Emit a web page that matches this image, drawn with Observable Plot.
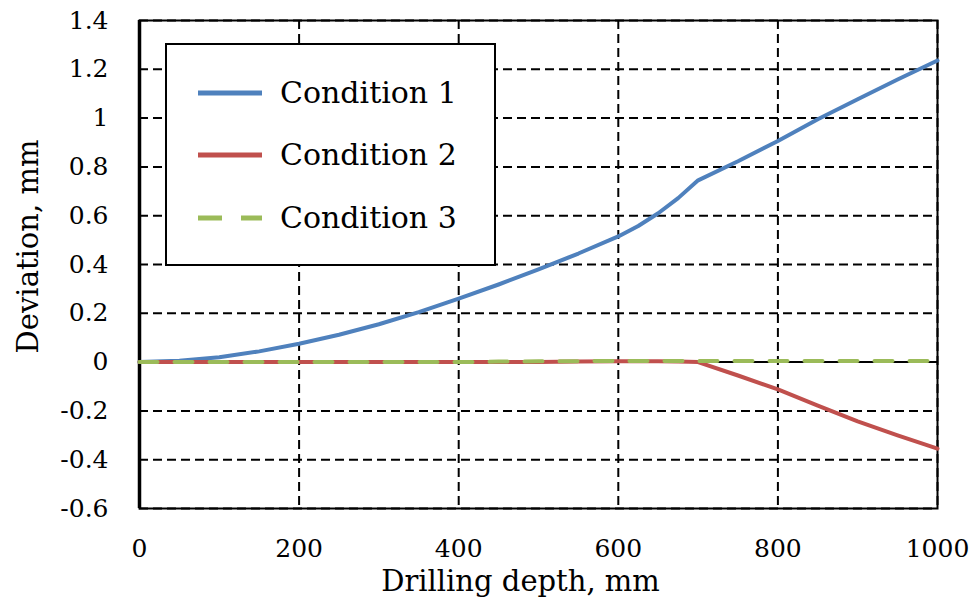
<!DOCTYPE html>
<html>
<head>
<meta charset="utf-8">
<script src="https://cdn.jsdelivr.net/npm/d3@7"></script>
<script src="https://cdn.jsdelivr.net/npm/@observablehq/plot@0.6"></script>
<style>
  html, body { margin: 0; padding: 0; background: #fff; }
  #chart { position: relative; width: 978px; height: 600px; font-family: "DejaVu Serif", serif; }
  #chart svg { display: block; }
  #legend {
    position: absolute; left: 165px; top: 43px; width: 331px; height: 223px;
    box-sizing: border-box; border: 2px solid #000; background: #fff;
  }
  .entry { position: absolute; left: 31px; height: 40px; display: flex; align-items: center; }
  .entry svg { width: 64px; height: 8px; margin-right: 18px; }
  .entry span { font-size: 30px; color: #000; line-height: 40px; }
</style>
</head>
<body>
<div id="chart"></div>
<script>
// Drilling depth (mm) at which deviation was sampled
const depth = [0, 50, 100, 150, 200, 250, 300, 350, 400, 450, 500, 550, 600, 625, 650, 675, 700, 750, 800, 850, 900, 950, 1000];

// Deviation (mm) for each drilling condition
const condition1 = [0, 0.006, 0.02, 0.044, 0.075, 0.112, 0.155, 0.205, 0.26, 0.318, 0.38, 0.445, 0.515, 0.558, 0.61, 0.672, 0.745, 0.823, 0.906, 0.995, 1.077, 1.158, 1.236];
const condition2 = [0, 0, 0, 0, 0, 0, 0, 0, 0, 0, 0, 0.002, 0.003, 0.003, 0.003, 0.002, 0, -0.055, -0.112, -0.178, -0.243, -0.3, -0.355];
const condition3 = [0, 0, 0, 0, 0, 0, 0, 0, 0, 0.002, 0.003, 0.004, 0.005, 0.005, 0.005, 0.005, 0.005, 0.004, 0.004, 0.004, 0.004, 0.004, 0.004];

const seriesNames = ["Condition 1", "Condition 2", "Condition 3"];
const seriesColors = ["#4F81BD", "#C0504D", "#9BBB59"];
const seriesDash = [null, null, "18,17"];

// Axis ticks
const xTicks = [0, 200, 400, 600, 800, 1000];
const yTicks = [-0.6, -0.4, -0.2, 0, 0.2, 0.4, 0.6, 0.8, 1, 1.2, 1.4];
const xTitle = "Drilling depth, mm";
const yTitle = "Deviation, mm";

const seriesValues = [condition1, condition2, condition3];
const rows = seriesValues.flatMap((vals, s) =>
  vals.map((v, i) => ({series: seriesNames[s], depth: depth[i], deviation: v}))
);

const gridStyle = {stroke: "#000", strokeWidth: 2, strokeDasharray: "9,5"};

const plot = Plot.plot({
  width: 978,
  height: 600,
  marginLeft: 139,
  marginRight: 41,
  marginTop: 20,
  marginBottom: 92,
  style: {fontFamily: "\"DejaVu Serif\", serif", fontSize: "25px", color: "#000", background: "#fff"},
  x: {domain: [0, 1000]},
  y: {domain: [-0.6, 1.4]},
  marks: [
    Plot.ruleY(yTicks.filter(d => d !== 0), gridStyle),
    Plot.ruleX(xTicks, gridStyle),
    Plot.ruleY([0], {stroke: "#000", strokeWidth: 2}),
    Plot.frame({stroke: "#000", strokeWidth: 2}),
    Plot.ruleX([0], {stroke: "#000", strokeWidth: 3.5}),
    Plot.axisY({ticks: yTicks, tickSize: 0, tickPadding: 31, tickFormat: d => String(+d.toFixed(1)), label: null, fontSize: 25}),
    Plot.axisX({ticks: xTicks, tickSize: 0, tickPadding: 31, tickFormat: d => String(d), label: null, fontSize: 25}),
    Plot.text([xTitle], {frameAnchor: "bottom", lineAnchor: "middle", textAnchor: "middle", dx: -18, dy: 73, fontSize: 29, fill: "#000"}),
    Plot.text([yTitle], {frameAnchor: "left", lineAnchor: "middle", textAnchor: "middle", rotate: -90, dx: -111, dy: -18, fontSize: 29, fill: "#000"}),
    ...seriesNames.map((name, s) =>
      Plot.line(rows.filter(r => r.series === name), {
        x: "depth", y: "deviation",
        stroke: seriesColors[s], strokeWidth: 4,
        strokeDasharray: seriesDash[s] ?? undefined,
        curve: "linear"
      })
    )
  ]
});

const chart = document.getElementById("chart");
chart.appendChild(plot);

// Legend box over the upper-left of the plot area
const legend = document.createElement("div");
legend.id = "legend";
const rowTops = [28, 90, 153];
seriesNames.forEach((name, s) => {
  const entry = document.createElement("div");
  entry.className = "entry";
  entry.style.top = rowTops[s] + "px";
  const dash = s === 2 ? ' stroke-dasharray="24,19"' : "";
  entry.innerHTML = `<svg viewBox="0 0 64 8"><line x1="0" y1="4" x2="64" y2="4" stroke="${seriesColors[s]}" stroke-width="5"${dash}/></svg><span>${name}</span>`;
  legend.appendChild(entry);
});
chart.appendChild(legend);
</script>
</body>
</html>
